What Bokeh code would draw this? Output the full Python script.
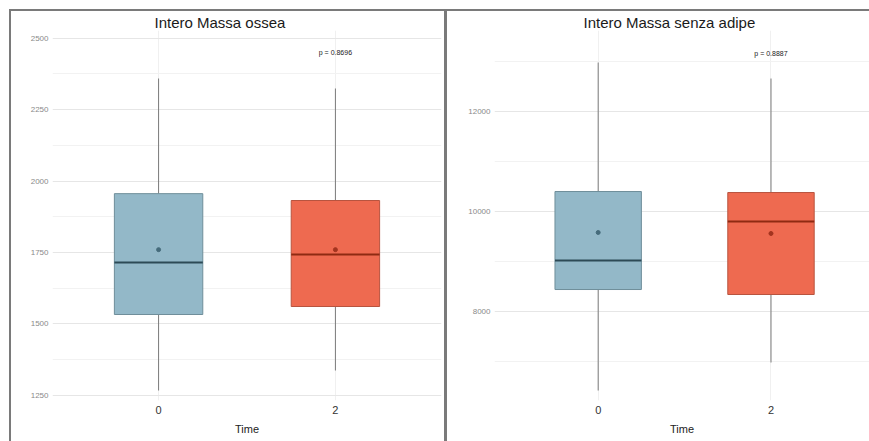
from bokeh.plotting import figure
from bokeh.layouts import row
from bokeh.models import ColumnDataSource, FixedTicker, Range1d, Label
from bokeh.embed import file_html
from bokeh.resources import INLINE

# Time points (categories) and their numeric slots on the x axis
times = ["0", "2"]
slots = [1, 2]

# Intero Massa ossea: box statistics per time point
bone_lower = [1267, 1337]
bone_q1 = [1533, 1561]
bone_median = [1715, 1743]
bone_q3 = [1956, 1932]
bone_upper = [2359, 2324]
bone_mean = [1760, 1760]
bone_p = "p = 0.8696"
bone_ticks = [1250, 1500, 1750, 2000, 2250, 2500]

# Intero Massa senza adipe: box statistics per time point
lean_lower = [6409, 6971]
lean_q1 = [8435, 8335]
lean_median = [9017, 9799]
lean_q3 = [10401, 10381]
lean_upper = [12989, 12668]
lean_mean = [9579, 9559]
lean_p = "p = 0.8887"
lean_ticks = [8000, 10000, 12000]

FILL = ["#93b8c8", "#ee6a50"]
EDGE = ["#6f8e9a", "#b8543f"]
MED = ["#2d4a56", "#8e2a12"]
MEAN = ["#456b7b", "#a3341f"]
FONT = "Liberation Sans"


def panel(title, lower, q1, med, q3, upper, mean, ptext, p_y, ticks,
          y_lo, y_hi, x_hi, width, left, right, title_offset):
    src = ColumnDataSource(dict(
        x=slots, lower=lower, q1=q1, med=med, q3=q3, upper=upper, mean=mean,
        x0=[s - 0.25 for s in slots], x1=[s + 0.25 for s in slots],
        fill=FILL, edge=EDGE, medc=MED, meanc=MEAN,
    ))
    p = figure(width=width, height=430, x_range=Range1d(0.4, x_hi),
               y_range=Range1d(y_lo, y_hi), output_backend="svg",
               toolbar_location=None, min_border_left=left,
               min_border_right=right, min_border_top=19,
               min_border_bottom=41, styles={"background-color": "white"})
    p.background_fill_color = "white"
    p.border_fill_color = "white"
    p.outline_line_color = None

    p.title.text = title
    p.title.align = "left"
    p.title.offset = title_offset
    p.title.text_font = FONT
    p.title.text_font_size = "15px"
    p.title.text_font_style = "normal"
    p.title.text_color = "#1a1a1a"
    p.title.standoff = 0

    # whiskers
    p.segment(x0="x", x1="x", y0="q3", y1="upper", source=src,
              line_color="#7a7a7a", line_width=1)
    p.segment(x0="x", x1="x", y0="lower", y1="q1", source=src,
              line_color="#7a7a7a", line_width=1)
    # boxes
    p.vbar(x="x", width=0.5, bottom="q1", top="q3", source=src,
           fill_color="fill", line_color="edge", line_width=1)
    # medians
    p.segment(x0="x0", x1="x1", y0="med", y1="med", source=src,
              line_color="medc", line_width=2)
    # means
    p.scatter(x="x", y="mean", source=src, size=4, marker="circle",
              fill_color="meanc", line_color="meanc")

    p.add_layout(Label(x=2, y=p_y, text=ptext, text_align="center",
                       text_baseline="middle", text_font=FONT,
                       text_font_size="7px", text_color="#222222"))

    # axes
    p.xaxis.ticker = FixedTicker(ticks=slots)
    p.xaxis.major_label_overrides = {s: t for s, t in zip(slots, times)}
    p.xaxis.axis_label = "Time"
    p.xaxis.axis_label_text_font = FONT
    p.xaxis.axis_label_text_font_size = "11px"
    p.xaxis.axis_label_text_font_style = "normal"
    p.xaxis.axis_label_text_color = "#222222"
    p.xaxis.axis_label_standoff = 6
    p.xaxis.major_label_text_font = FONT
    p.xaxis.major_label_text_font_size = "11px"
    p.xaxis.major_label_text_color = "#333333"
    p.xaxis.major_label_standoff = 5

    minor = [(a + b) / 2 for a, b in zip(ticks[:-1], ticks[1:])]
    minor = [ticks[0] - (ticks[1] - ticks[0]) / 2] + minor + [ticks[-1] + (ticks[1] - ticks[0]) / 2]
    p.yaxis.ticker = FixedTicker(ticks=ticks, minor_ticks=minor)
    p.yaxis.major_label_text_font = FONT
    p.yaxis.major_label_text_font_size = "8px"
    p.yaxis.major_label_text_color = "#8a8a8a"
    p.yaxis.major_label_standoff = 4

    for ax in (p.xaxis, p.yaxis):
        ax.axis_line_color = None
        ax.major_tick_line_color = None
        ax.minor_tick_line_color = None
        ax.major_tick_out = 0
        ax.major_tick_in = 0
        ax.minor_tick_out = 0
        ax.minor_tick_in = 0

    p.xgrid.grid_line_color = "#f0f0f0"
    p.ygrid.grid_line_color = "#e6e6e6"
    p.ygrid.minor_grid_line_color = "#f2f2f2"
    return p


p1 = panel("Intero Massa ossea", bone_lower, bone_q1, bone_median, bone_q3,
           bone_upper, bone_mean, bone_p, 2450, bone_ticks,
           1232, 2527, 2.6, 433, 41, 3, 102)
p2 = panel("Intero Massa senza adipe", lean_lower, lean_q1, lean_median, lean_q3,
           lean_upper, lean_mean, lean_p, 13170, lean_ticks,
           6209, 13631, 2.57, 422, 47, 0, 89)

layout = row(p1, p2, spacing=3, margin=(9, 0, 0, 9),
             styles={"background-color": "#7a7a7a", "padding-top": "2px",
                     "padding-left": "2px"})

open("out.html", "w").write(file_html(layout, INLINE))
